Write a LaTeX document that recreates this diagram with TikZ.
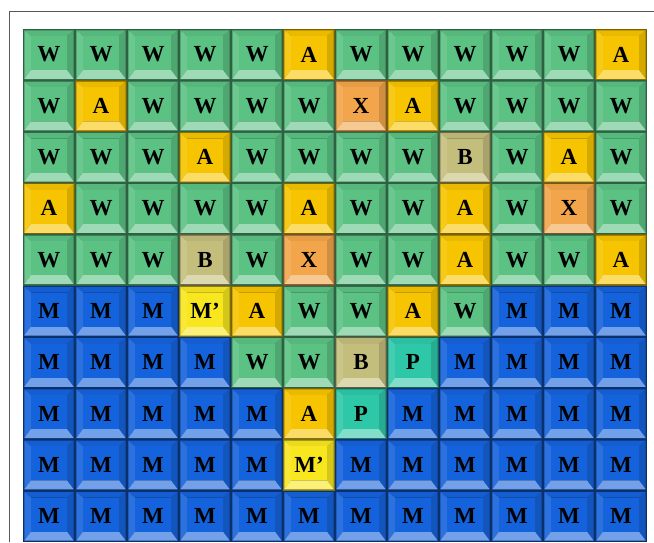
\documentclass[tikz,border=0pt]{standalone}
\usepackage{fontspec}
\setmainfont{Liberation Serif}
\definecolor{cW}{HTML}{5BC283}
\definecolor{cA}{HTML}{F6C400}
\definecolor{cX}{HTML}{F2A54A}
\definecolor{cB}{HTML}{C4BE7C}
\definecolor{cMp}{HTML}{F8E61E}
\definecolor{cP}{HTML}{2EC8A8}
\definecolor{cM}{HTML}{1563DC}
\def\labW{W}\def\labA{A}\def\labX{X}\def\labB{B}\def\labMp{M’}\def\labP{P}\def\labM{M}
\tikzset{
  tilelabel/.style={font=\bfseries\fontsize{23}{23}\selectfont, text=black, inner sep=0pt},
  frameline/.style={draw=black!65, line width=1pt}
}
\begin{document}
\begin{tikzpicture}[x=1pt,y=-1pt]
\useasboundingbox (0,0) rectangle (654,542);
\fill[white] (0,0) rectangle (654,542);
\draw[frameline] (9.5,542) -- (9.5,11) -- (654,11);
\foreach \rowlist [count=\r from 0] in {
  {W,W,W,W,W,A,W,W,W,W,W,A},
  {W,A,W,W,W,W,X,A,W,W,W,W},
  {W,W,W,A,W,W,W,W,B,W,A,W},
  {A,W,W,W,W,A,W,W,A,W,X,W},
  {W,W,W,B,W,X,W,W,A,W,W,A},
  {M,M,M,Mp,A,W,W,A,W,M,M,M},
  {M,M,M,M,W,W,B,P,M,M,M,M},
  {M,M,M,M,M,A,P,M,M,M,M,M},
  {M,M,M,M,M,Mp,M,M,M,M,M,M},
  {M,M,M,M,M,M,M,M,M,M,M,M}}{
  \foreach \k [count=\c from 0] in \rowlist {
    \pgfmathsetmacro\xa{23+\c*52}
    \pgfmathsetmacro\ya{29+\r*51.3}
    \begin{scope}[shift={(\xa,\ya)}]
      \fill[c\k!50!black] (0,0) rectangle (52,51.3);
      \fill[c\k!95!black] (1.3,1.3) -- (50.7,1.3) -- (44,7) -- (8,7) -- cycle;
      \fill[c\k!90!white] (1.3,1.3) -- (8,7) -- (8,41) -- (1.3,50) -- cycle;
      \fill[c\k!86!black] (50.7,1.3) -- (44,7) -- (44,41) -- (50.7,50) -- cycle;
      \fill[c\k!60!white] (1.3,50) -- (50.7,50) -- (44,41) -- (8,41) -- cycle;
      \fill[c\k] (8,7) rectangle (44,41);
      \node[tilelabel] (t-\r-\c) at (26,25.5) {\csname lab\k\endcsname};
    \end{scope}
  }
}
\end{tikzpicture}
\end{document}
